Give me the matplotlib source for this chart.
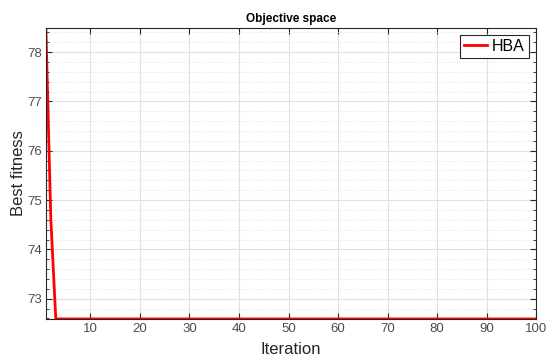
import matplotlib.pyplot as plt
from matplotlib.ticker import MultipleLocator

plt.rcParams['font.family'] = ['Liberation Sans', 'DejaVu Sans']

# convergence curve
iterations = list(range(1, 101))
best_fitness = [78.49, 74.62] + [72.59] * 98
series_name = "HBA"

x_ticks = [10, 20, 30, 40, 50, 60, 70, 80, 90, 100]
y_ticks = [73, 74, 75, 76, 77, 78]

axc = (0.15, 0.15, 0.15)
txt = (0.3, 0.3, 0.3)

fig = plt.figure(figsize=(5.46, 3.62), dpi=100)
ax = fig.add_axes([0.084, 0.119, 0.898, 0.804])

ax.plot(iterations, best_fitness, color='red', linewidth=2, label=series_name)

ax.set_xlim(min(iterations), max(iterations))
ax.set_ylim(min(best_fitness), max(best_fitness))
ax.set_xticks(x_ticks)
ax.set_yticks(y_ticks)
ax.yaxis.set_minor_locator(MultipleLocator(0.2))

ax.grid(True, which='major', color=(0.88, 0.88, 0.88), linewidth=0.8)
ax.grid(True, which='minor', axis='y', color=(0.88, 0.88, 0.88),
        linewidth=0.6, linestyle=':')
ax.set_axisbelow(True)

ax.tick_params(which='both', direction='in', top=True, right=True,
               colors=axc, labelcolor=txt, labelsize=9.5, pad=3)
ax.tick_params(which='major', length=4)
ax.tick_params(which='minor', length=2)
for s in ax.spines.values():
    s.set_color(axc)
    s.set_linewidth(0.8)

ax.set_xlabel("Iteration", fontsize=12, color=axc, labelpad=5)
ax.set_ylabel("Best fitness", fontsize=12, color=axc, labelpad=1)
ax.set_title("Objective space", fontsize=8.5, fontweight='bold', pad=4)

leg = ax.legend(loc='upper right', fontsize=11.5, fancybox=False,
                framealpha=1, handlelength=1.45, handletextpad=0.3,
                borderpad=0.25, borderaxespad=0.45)
leg.get_frame().set_edgecolor(axc)
leg.get_frame().set_linewidth(0.8)

fig.savefig("out.png", dpi=100)
